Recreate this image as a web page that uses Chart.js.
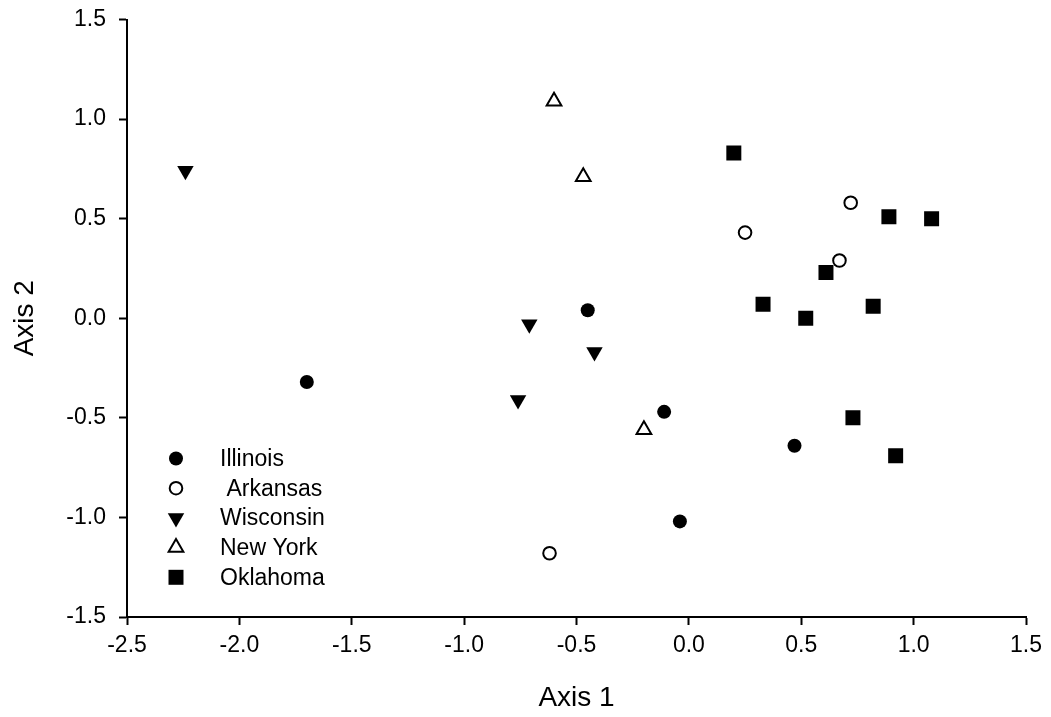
<!DOCTYPE html>
<html lang="en">
<head>
    <meta charset="UTF-8">
    <title>Axis 1 vs Axis 2</title>
    <script src="https://cdn.jsdelivr.net/npm/chart.js"></script>
    <style>
        body { margin: 0; background: #fff; }
        canvas { display: block; }
    </style>
</head>
<body>
<canvas id="ordChart" width="1051" height="717"></canvas>

<script>
// Point scores: [axis1, axis2]
const seriesNames = ['Illinois', ' Arkansas', 'Wisconsin', 'New York', 'Oklahoma'];
const illinois  = [[-1.70, -0.32], [-0.45, 0.04], [-0.11, -0.47], [-0.04, -1.02], [0.47, -0.64]];
const arkansas  = [[-0.62, -1.18], [0.25, 0.43], [0.72, 0.58], [0.67, 0.29]];
const wisconsin = [[-2.24, 0.74], [-0.71, -0.03], [-0.42, -0.17], [-0.76, -0.41]];
const newYork   = [[-0.60, 1.09], [-0.47, 0.71], [-0.20, -0.56]];
const oklahoma  = [[0.20, 0.83], [0.89, 0.51], [1.08, 0.50], [0.61, 0.23], [0.33, 0.07],
                   [0.52, 0.00], [0.82, 0.06], [0.73, -0.50], [0.92, -0.69]];
const xTicks = [-2.5, -2.0, -1.5, -1.0, -0.5, 0.0, 0.5, 1.0, 1.5];
const yTicks = [-1.5, -1.0, -0.5, 0.0, 0.5, 1.0, 1.5];

const FONT = 'Arial, "Liberation Sans", sans-serif';
Chart.defaults.font.family = FONT;
Chart.defaults.color = '#000';

function toPoints(arr) {
    return arr.map(p => ({ x: p[0], y: p[1] }));
}

// marker looks, one per series
const markers = [
    { style: 'circle',   radius: 7,    fill: '#000', border: 0, rotation: 0 },
    { style: 'circle',   radius: 6.3,  fill: '#fff', border: 2, rotation: 0 },
    { style: 'triangle', radius: 9.5,  fill: '#000', border: 0, rotation: 180 },
    { style: 'triangle', radius: 8.5,  fill: '#fff', border: 2, rotation: 0 },
    { style: 'rect',     radius: 10.6, fill: '#000', border: 0, rotation: 0 },
];
const seriesData = [illinois, arkansas, wisconsin, newYork, oklahoma];

const datasets = seriesData.map((arr, i) => ({
    label: seriesNames[i],
    data: toPoints(arr),
    pointStyle: markers[i].style,
    pointRadius: markers[i].radius,
    pointHoverRadius: markers[i].radius,
    pointRotation: markers[i].rotation,
    pointBackgroundColor: markers[i].fill,
    pointBorderColor: '#000',
    pointBorderWidth: markers[i].border,
    showLine: false,
}));

// legend drawn inside the plot, lower left
const innerLegend = {
    id: 'innerLegend',
    afterDraw(chart) {
        const ctx = chart.ctx;
        const area = chart.chartArea;
        const x0 = area.left + 49, y0 = area.top + 439, step = 29.7;
        ctx.save();
        chart.data.datasets.forEach((ds, i) => {
            const y = y0 + i * step;
            const m = markers[i];
            ctx.fillStyle = m.fill;
            ctx.strokeStyle = '#000';
            ctx.lineWidth = m.border || 1;
            Chart.helpers.drawPoint(ctx, {
                pointStyle: m.style, radius: m.radius, rotation: m.rotation, borderWidth: m.border
            }, x0, y);
            ctx.fillStyle = '#000';
            ctx.font = '23px ' + FONT;
            ctx.textBaseline = 'middle';
            ctx.textAlign = 'left';
            ctx.fillText(ds.label, x0 + 44, y + 1);
        });
        ctx.restore();
    }
};

new Chart(document.getElementById('ordChart').getContext('2d'), {
    type: 'scatter',
    data: { datasets },
    options: {
        responsive: false,
        animation: false,
        events: [],
        layout: { padding: { top: 19.5, right: 25, bottom: 0, left: 0 } },
        plugins: {
            legend: { display: false },
            tooltip: { enabled: false },
        },
        scales: {
            x: {
                type: 'linear',
                min: -2.5,
                max: 1.5,
                afterBuildTicks: s => { s.ticks = xTicks.map(v => ({ value: v })); },
                afterFit: s => { s.height = 100; },
                ticks: {
                    font: { size: 23 },
                    padding: 7,
                    maxRotation: 0,
                    callback: v => Number(v).toFixed(1),
                },
                grid: { drawOnChartArea: false, drawTicks: true, tickLength: 8, tickWidth: 2, color: '#000' },
                border: { display: true, color: '#000', width: 2 },
                title: { display: true, text: 'Axis 1', font: { size: 28 }, padding: { top: 2, bottom: 2 } },
            },
            y: {
                type: 'linear',
                min: -1.5,
                max: 1.5,
                afterBuildTicks: s => { s.ticks = yTicks.map(v => ({ value: v })); },
                afterFit: s => { s.width = 127; s.paddingTop = 0; s.paddingBottom = 0; },
                ticks: {
                    font: { size: 23 },
                    padding: 13,
                    callback: v => Number(v).toFixed(1),
                },
                grid: { drawOnChartArea: false, drawTicks: true, tickLength: 8, tickWidth: 2, color: '#000' },
                border: { display: true, color: '#000', width: 2 },
                title: { display: true, text: 'Axis 2', font: { size: 28 }, padding: { top: 8, bottom: 8 } },
            }
        }
    },
    plugins: [innerLegend]
});
</script>
</body>
</html>
